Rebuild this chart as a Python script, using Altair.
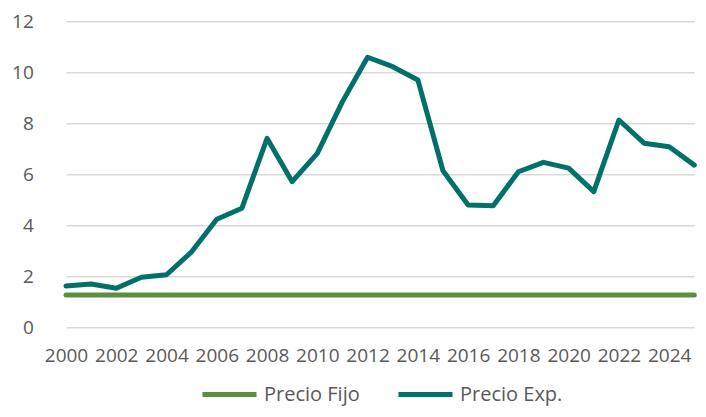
import altair as alt
import pandas as pd

years = list(range(2000, 2026))
precio_exp = [1.62, 1.70, 1.53, 1.96, 2.06, 2.96, 4.24, 4.67, 7.41, 5.71,
              6.82, 8.85, 10.59, 10.22, 9.70, 6.14, 4.80, 4.77, 6.10, 6.47,
              6.24, 5.32, 8.13, 7.22, 7.08, 6.36]
precio_fijo = [1.27, 1.27, 1.27, 1.27, 1.27, 1.27, 1.27, 1.27, 1.27, 1.27,
               1.27, 1.27, 1.27, 1.27, 1.27, 1.27, 1.27, 1.27, 1.27, 1.27,
               1.27, 1.27, 1.27, 1.27, 1.27, 1.27]
series_names = ["Precio Fijo", "Precio Exp."]
series_colors = ["#5B8F3E", "#00706A"]
x_ticks = list(range(2000, 2025, 2))
y_ticks = [0, 2, 4, 6, 8, 10, 12]

df = pd.concat([
    pd.DataFrame({"year": years, "value": precio_fijo, "serie": series_names[0]}),
    pd.DataFrame({"year": years, "value": precio_exp, "serie": series_names[1]}),
])

FONT = "Open Sans"
GRAY = "#595959"

chart = alt.Chart(df).mark_line(strokeWidth=5, strokeCap="round", strokeJoin="round").encode(
    x=alt.X("year:Q",
            scale=alt.Scale(domain=[2000, 2025], range=[12.7, 641], nice=False, zero=False),
            axis=alt.Axis(values=x_ticks, format="d", title=None, grid=False, domain=False,
                          ticks=False, labelPadding=19, labelFontSize=19, labelColor=GRAY,
                          labelFont=FONT, labelFlush=False, labelOverlap=False)),
    y=alt.Y("value:Q",
            scale=alt.Scale(domain=[0, 12], nice=False),
            axis=alt.Axis(values=y_ticks, title=None, grid=True, gridColor="#D9D9D9",
                          gridWidth=1.5, domain=False, ticks=False, labelPadding=20,
                          labelFontSize=19, labelColor=GRAY, labelFont=FONT)),
    color=alt.Color("serie:N",
                    scale=alt.Scale(domain=series_names, range=series_colors),
                    sort=series_names,
                    legend=alt.Legend(title=None, orient="none", direction="horizontal",
                                      legendX=146.7, legendY=343.5, symbolType="stroke",
                                      symbolSize=2916, symbolStrokeWidth=5,
                                      labelFontSize=20, labelColor=GRAY, labelFont=FONT,
                                      labelOffset=5, columnPadding=28, padding=0)),
    order=alt.Order("serie:N"),
).properties(
    width=644.7,
    height=306,
    autosize=alt.AutoSizeParams(type="none"),
    padding={"left": 45.3, "top": 13.3, "right": 0, "bottom": 81.7},
).configure_view(stroke=None)

chart.save("out.html", embed_options={"renderer": "svg", "actions": False})
